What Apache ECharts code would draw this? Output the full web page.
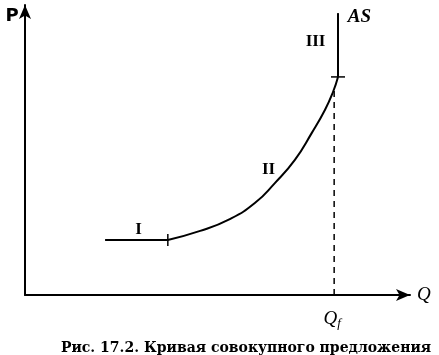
<!DOCTYPE html>
<html>
<head>
<meta charset="utf-8">
<script src="https://cdn.jsdelivr.net/npm/echarts@6/dist/echarts.min.js"></script>
<style>
  html, body { margin: 0; padding: 0; background: #fff; }
  #chart { width: 439px; height: 355px; }
</style>
</head>
<body>
<div id="chart"></div>
<script>
// кривая AS: горизонтальный участок I, восходящий II, вертикальный III
var flatPart = [[20.8, 19.0], [37.1, 19.0]];
var risingPart = [[37.1, 19.0], [45.5, 22.1], [53.2, 26.2], [59.7, 31.7], [64.9, 38.6],
    [70.1, 46.6], [74.5, 55.9], [77.9, 63.8], [80.0, 70.0], [81.3, 75.2]];
var verticalPart = [[81.3, 75.2], [81.3, 97.2]];
var qfLine = [[80.3, 0], [80.3, 70.5]];
var breakPoints = [[37.1, 19.0], [81.3, 75.2]];
var segmentLabels = [[29.6, 22.4, 'I'], [63.4, 43.1, 'II'], [75.6, 87.2, 'III']];

var myChart = echarts.init(document.getElementById('chart'));

var serif = '"Liberation Serif", "DejaVu Serif", serif';
var capSerif = '"DejaVu Serif", serif';
var black = '#000';

function textSeries(data, label) {
    label.show = true;
    label.position = [0, 0];
    label.align = 'center';
    label.verticalAlign = 'middle';
    return {
        type: 'scatter', data: data, symbolSize: 1, clip: false, silent: true,
        itemStyle: { color: 'rgba(0,0,0,0)', opacity: 1 },
        label: label
    };
}

var option = {
    animation: false,
    backgroundColor: '#fff',
    title: {
        text: '{a|Рис. 17.2.} {b|Кривая совокупного предложения}',
        left: 241,
        textAlign: 'center',
        top: 334,
        textStyle: {
            rich: {
                a: { fontFamily: capSerif, fontSize: 14, color: black },
                b: { fontFamily: capSerif, fontSize: 14, fontWeight: 'bold', color: black }
            }
        }
    },
    grid: { left: 25, right: 29, top: 5, bottom: 60 },
    xAxis: {
        type: 'value', min: 0, max: 100,
        axisLine: { show: true, symbol: ['none', 'arrow'], symbolSize: [9, 14],
            lineStyle: { color: black, width: 2 } },
        axisTick: { show: false }, axisLabel: { show: false }, splitLine: { show: false },
        name: 'Q', nameLocation: 'end', nameGap: 7,
        nameTextStyle: { fontFamily: serif, fontStyle: 'italic', fontSize: 19, color: black, padding: [8, 0, 0, 0] }
    },
    yAxis: {
        type: 'value', min: 0, max: 100,
        axisLine: { show: true, symbol: ['none', 'arrow'], symbolSize: [9, 14],
            lineStyle: { color: black, width: 2 } },
        axisTick: { show: false }, axisLabel: { show: false }, splitLine: { show: false },
        name: 'P', nameLocation: 'end', nameGap: -20,
        nameTextStyle: { fontFamily: '"DejaVu Sans", sans-serif', fontSize: 18, fontWeight: 'bold', color: black, padding: [0, 26, 0, 0] }
    },
    series: [
        { type: 'line', data: flatPart, symbol: 'none', lineStyle: { color: black, width: 2 } },
        { type: 'line', data: risingPart, symbol: 'none', smooth: 0.5, lineStyle: { color: black, width: 2 } },
        { type: 'line', data: verticalPart, symbol: 'none', lineStyle: { color: black, width: 2 } },
        { type: 'line', data: qfLine, symbol: 'none', lineStyle: { color: black, width: 1.5, type: [6, 5] } },
        {
            type: 'scatter', data: breakPoints, symbol: 'rect',
            symbolSize: function (v, p) { return p.dataIndex === 0 ? [1.5, 12] : [14, 1.5]; },
            itemStyle: { color: black, opacity: 1 }
        },
        textSeries(segmentLabels, {
            formatter: function (p) { return p.data[2]; },
            fontFamily: serif, fontWeight: 'bold', fontSize: 17, color: black
        }),
        textSeries([[87.0, 95.5, 'AS']], {
            formatter: function (p) { return p.data[2]; },
            fontFamily: serif, fontStyle: 'italic', fontWeight: 'bold', fontSize: 19, color: black
        }),
        textSeries([[79.9, -8.6]], {
            formatter: '{q|Q}{f|f}',
            rich: {
                q: { fontFamily: serif, fontStyle: 'italic', fontSize: 19, color: black },
                f: { fontFamily: serif, fontStyle: 'italic', fontSize: 13, color: black, padding: [9, 0, 0, 0] }
            }
        })
    ]
};

myChart.setOption(option);
</script>
</body>
</html>
